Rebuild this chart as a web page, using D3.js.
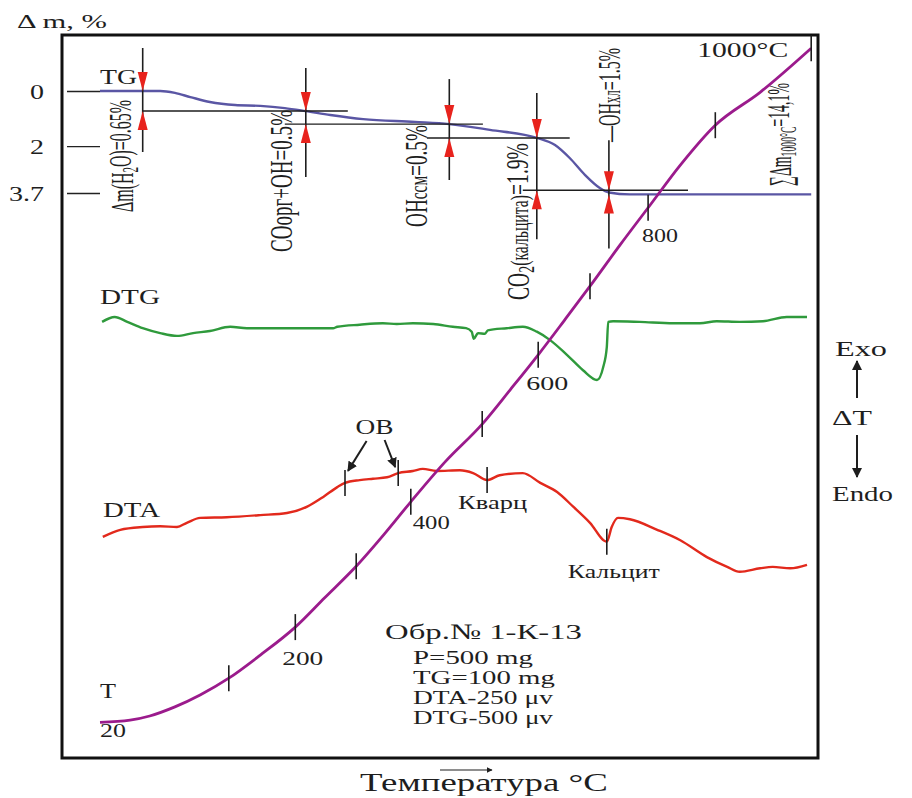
<!DOCTYPE html>
<html>
<head>
<meta charset="utf-8">
<script src="https://cdn.jsdelivr.net/npm/d3@7"></script>
<style>
  body { margin: 0; background: #fff; }
  svg { display: block; }
  text { font-family: "Liberation Serif", "Times New Roman", serif; fill: #1e1e1e; }
</style>
</head>
<body>
<svg id="chart" width="912" height="798"></svg>
<script>
// ---- Recorded traces: [time, value] ----
// Temperature pen (chart deflection, arbitrary units)
const tCurve = [[0,5.1],[4.3,5.4],[7.1,6.0],[10.7,7.3],[14.3,9.0],[18.4,11.4],[22.9,14.7],[27.9,18.7],
  [32.1,22.9],[36.6,27.4],[40.7,32.1],[44.4,36.6],[49.3,42.3],[54.6,47.7],[58.6,52.6],[62.6,57.6],
  [66.4,62.6],[70.0,67.4],[74.3,73.3],[78.6,79.0],[82.9,84.7],[87.9,90.4],[94.3,95.1],[101.6,101.4]];

// Mass loss, %
const tgCurve = [[0,0],[8.6,0],[10.7,0.07],[12.9,0.22],[15.7,0.40],[19.3,0.51],[22.9,0.54],[26.4,0.62],
  [29.4,0.73],[32.9,0.87],[37.6,1.02],[45.0,1.12],[49.9,1.2],[55.7,1.41],[62.4,1.7],[65.0,1.96],
  [67.1,2.43],[69.3,3.05],[71.4,3.52],[72.7,3.68],[75.7,3.75],[101.6,3.75]];

// DTG pen (chart deflection)
const dtgCurve = [[0.3,62.3],[2.1,63.0],[3.9,62.3],[6.1,61.4],[8.6,60.7],[11.0,60.3],[13.3,60.7],
  [15.7,61.0],[18.6,61.6],[21.0,61.4],[25.3,61.4],[30.0,61.4],[33.3,61.4],[33.9,61.6],[37.1,61.9],
  [40.4,62.1],[42.4,62.0],[44.7,62.1],[47.6,62.0],[50.4,61.6],[52.3,61.4],[53.1,60.9],[53.4,59.9],
  [54.0,60.7],[55.0,60.6],[55.4,61.1],[58.1,61.4],[60.4,61.6],[62.4,60.9],[64.3,59.7],[66.7,57.6],
  [69.0,55.4],[71.0,54.0],[71.9,55.9],[72.4,58.7],[72.6,62.3],[73.3,62.4],[77.1,62.3],[81.9,62.1],
  [85.7,62.1],[88.1,62.4],[91.4,62.3],[94.7,62.4],[98.1,63.0],[101.0,63.0]];

// DTA pen (chart deflection)
const dtaCurve = [[0.4,31.6],[2.9,32.6],[6.1,33.0],[8.6,33.1],[11.0,33.0],[12.4,33.6],[14.3,34.3],
  [18.1,34.4],[22.9,34.7],[26.7,35.0],[29.6,35.9],[31.9,37.3],[33.9,38.7],[35.0,39.3],[37.1,39.7],
  [39.0,39.9],[41.0,40.1],[42.6,40.7],[44.7,41.0],[46.1,41.3],[48.1,41.0],[51.4,41.1],[53.3,40.7],
  [55.3,39.7],[57.1,40.4],[60.4,40.7],[62.9,39.3],[65.3,38.0],[67.6,35.9],[70.0,33.6],[72.4,30.9],
  [73.1,33.0],[74.0,34.3],[75.7,34.1],[79.6,32.6],[82.9,31.1],[86.7,28.7],[89.6,27.3],[91.4,26.6],
  [94.3,27.1],[96.1,27.3],[98.6,27.1],[101.0,27.6]];

// Temperature marks along the T trace
const tempMarks = [100, 200, 300, 400, 500, 600, 700, 800, 900, 1000];
const tempMarkTimes = [18.4, 27.9, 36.6, 44.4, 54.6, 62.6, 70.0, 78.3, 87.9, 101.6];
const tempLabelled = [200, 400, 600, 800];

// Mass axis ticks
const massTicks = [0, 2, 3.7];

// Mass-loss steps: time of step and the two TG levels it spans
const stepTimes = [6.1, 29.4, 49.9, 62.4, 72.7];
const stepLevels = [[0, 0.725], [0.725, 1.2], [1.2, 1.705], [1.705, 3.6], [3.6, 3.75]];
const stepTexts = [
  [["Δm(H", ""], ["2", "sub"], ["O)=0.65%", ""]],
  [["СОорг+ОН=0.5%", ""]],
  [["ОН", ""], ["ссм", "small"], ["=0.5%", ""]],
  [["СО", ""], ["2", "sub"], ["(кальцита)", "small"], ["=1.9%", ""]],
  [["—ОН", ""], ["хл", "small"], ["=1.5%", ""]]
];
const totalText = [["∑Δm", ""], ["1000°C", "sub"], ["=14,1%", ""]];
// horizontal reference levels: [level %, from time, to time]
const stepGuides = [[0.725, 6.1, 35.4], [1.2, 26.4, 54.7], [1.705, 46.7, 67.1], [3.6, 60.4, 84.0]];

// DTA thermal effects
const dtaEventTimes = [35.0, 42.6, 55.3, 72.4];
const dtaEventNames = ["ОВ", "ОВ", "Кварц", "Кальцит"];

const sampleInfo = ["P=500 mg", "TG=100 mg", "DTA-250 μv", "DTG-500 μv"];

// ---- Scales ----
const x = d3.scaleLinear().domain([0, 100]).range([100, 800]);
const yPen = d3.scaleLinear().domain([0, 100]).range([758, 58]);
const yTG = d3.scaleLinear().domain([0, 3.7]).range([91, 193]);
const tAt = d3.scaleLinear().domain(tCurve.map(d => d[0])).range(tCurve.map(d => d[1]));
const dtaAt = d3.scaleLinear().domain(dtaCurve.map(d => d[0])).range(dtaCurve.map(d => d[1]));

const svg = d3.select("#chart");
const defs = svg.append("defs");
defs.append("marker").attr("id", "head").attr("viewBox", "0 0 10 10")
  .attr("refX", 9).attr("refY", 5).attr("markerWidth", 5).attr("markerHeight", 5)
  .attr("orient", "auto-start-reverse").attr("markerUnits", "strokeWidth")
  .append("path").attr("d", "M0,0 L10,5 L0,10 Z").attr("fill", "#1e1e1e");

// horizontal text fitted to a given width (the lettering is wide)
function put(str, x0, x1, yc, size, anchor) {
  const t = svg.append("text").attr("font-size", size).attr("dy", "0.35em")
    .attr("text-anchor", anchor || "start").text(str);
  const w = t.node().getComputedTextLength();
  const k = Math.abs(x1 - x0) / w;
  t.attr("transform", `translate(${anchor === "end" ? x1 : x0},${yc}) scale(${k},1)`);
  return t;
}

// vertical (rotated) annotation with sub / small runs
function putVertical(parts, cx, yBottom, yTop, size) {
  const t = svg.append("text").attr("font-size", size).attr("dy", "0.35em")
    .attr("transform", `translate(${cx},${yBottom}) scale(1.6,1) rotate(-90)`)
    .attr("textLength", yBottom - yTop).attr("lengthAdjust", "spacingAndGlyphs");
  let shifted = false;
  parts.forEach(([s, kind]) => {
    const sp = t.append("tspan").text(s);
    if (kind === "sub") { sp.attr("font-size", size * 0.7).attr("dy", shifted ? 0 : "0.22em"); shifted = true; }
    else {
      if (shifted) { sp.attr("dy", "-0.22em"); shifted = false; }
      if (kind === "small") sp.attr("font-size", size * 0.8);
    }
  });
  return t;
}

const line = d3.line().x(d => x(d[0])).curve(d3.curveMonotoneX);

// ---- Frame ----
svg.append("rect").attr("x", 62).attr("y", 35).attr("width", 756).attr("height", 723)
  .attr("fill", "none").attr("stroke", "#111").attr("stroke-width", 3);

// ---- Mass axis ----
const axis = svg.append("g").attr("transform", "translate(100,0)")
  .call(d3.axisLeft(yTG).tickValues(massTicks).tickSize(33).tickFormat(d => d === 3.7 ? "3.7" : d3.format("d")(d)));
axis.select(".domain").remove();
axis.selectAll(".tick line").attr("stroke", "#222").attr("stroke-width", 1.4);
axis.selectAll(".tick text").attr("x", 0).attr("dy", "0.35em").attr("font-size", 20)
  .attr("font-family", "Liberation Serif, serif").attr("fill", "#1e1e1e")
  .attr("text-anchor", "end").attr("transform", "translate(-56,0) scale(1.4,1)");
put("Δ m, %", 17, 107, 21, 19);

// ---- TG trace ----
svg.append("path").datum(tgCurve).attr("fill", "none").attr("stroke", "#5a56a4").attr("stroke-width", 2.4)
  .attr("d", line.y(d => yTG(d[1])));
put("TG", 100, 137, 77, 20);

// step reference levels
stepGuides.forEach(([lv, t0, t1]) => {
  svg.append("line").attr("x1", x(t0)).attr("x2", x(t1)).attr("y1", yTG(lv)).attr("y2", yTG(lv))
    .attr("stroke", "#1e1e1e").attr("stroke-width", 1.3);
});

// step markers with converging red arrows
const stepLayout = [
  { up: 43, down: 41, dx: -21, bottom: 212, top: 100 },
  { up: 43, down: 53, dx: -25, bottom: 252, top: 110 },
  { up: 45, down: 42, dx: -34, bottom: 227, top: 125 },
  { up: 45, down: 49, dx: -19, bottom: 300, top: 143 },
  { up: 50, down: 54, dx: 0, bottom: 142, top: 48 }
];
stepTimes.forEach((t, i) => {
  const px = x(t), y0 = yTG(stepLevels[i][0]), y1 = yTG(stepLevels[i][1]);
  const L = stepLayout[i];
  svg.append("line").attr("x1", px).attr("x2", px).attr("y1", y0 - L.up).attr("y2", y1 + L.down)
    .attr("stroke", "#1e1e1e").attr("stroke-width", 1.6);
  svg.append("path").attr("fill", "#e8231d")
    .attr("d", `M${px - 5},${y0 - 19} L${px + 5},${y0 - 19} L${px},${y0} Z`);
  svg.append("path").attr("fill", "#e8231d")
    .attr("d", `M${px - 5},${y1 + 19} L${px + 5},${y1 + 19} L${px},${y1} Z`);
  putVertical(stepTexts[i], px + L.dx, L.bottom, L.top, 20);
});
putVertical(totalText, 780, 186, 83, 20);

// ---- DTG trace ----
svg.append("path").datum(dtgCurve).attr("fill", "none").attr("stroke", "#2f9a3c").attr("stroke-width", 2.4)
  .attr("d", line.y(d => yPen(d[1])));
put("DTG", 100, 160, 297, 20);

// ---- DTA trace ----
svg.append("path").datum(dtaCurve).attr("fill", "none").attr("stroke", "#e2291c").attr("stroke-width", 2.4)
  .attr("d", line.y(d => yPen(d[1])));
put("DTA", 103, 160, 510, 20);

const evPos = dtaEventTimes.map(t => [x(t), yPen(dtaAt(t))]);
evPos.forEach(([px, py]) => {
  svg.append("line").attr("x1", px).attr("x2", px).attr("y1", py - 13).attr("y2", py + 13)
    .attr("stroke", "#1e1e1e").attr("stroke-width", 1.6);
});
// organic matter: one label, two arrows
const obX = (evPos[0][0] + evPos[1][0]) / 2 + 3;
put(dtaEventNames[0], obX - 19, obX + 19, 427, 20);
[[obX - 8, 441, evPos[0][0] + 3, evPos[0][1] - 12], [obX + 10, 440, evPos[1][0] - 3, evPos[1][1] - 6]]
  .forEach(([ax, ay, bx, by]) => {
    svg.append("line").attr("x1", ax).attr("y1", ay).attr("x2", bx).attr("y2", by)
      .attr("stroke", "#1e1e1e").attr("stroke-width", 2).attr("marker-end", "url(#head)");
  });
put(dtaEventNames[2], evPos[2][0] - 29, evPos[2][0] + 40, evPos[2][1] + 22, 19);
put(dtaEventNames[3], evPos[3][0] - 39, evPos[3][0] + 53, evPos[3][1] + 30, 19);

// ---- Temperature trace ----
svg.append("path").datum(tCurve).attr("fill", "none").attr("stroke", "#9b1b8c").attr("stroke-width", 2.8)
  .attr("d", line.y(d => yPen(d[1])));
tempMarks.forEach((T, i) => {
  const px = x(tempMarkTimes[i]), py = yPen(tAt(tempMarkTimes[i]));
  svg.append("line").attr("x1", px).attr("x2", px).attr("y1", py - 13).attr("y2", py + 13)
    .attr("stroke", "#1e1e1e").attr("stroke-width", 1.6);
});
const tempLabelOffset = { 200: [-13, 31, 41], 400: [2, 21, 37], 600: [-12, 29, 42], 800: [-6, 28, 36] };
tempLabelled.forEach(T => {
  const i = tempMarks.indexOf(T);
  const px = x(tempMarkTimes[i]), py = yPen(tAt(tempMarkTimes[i]));
  const [dx, dy, w] = tempLabelOffset[T];
  put(String(T), px + dx, px + dx + w, py + dy, 19);
});
const startY = yPen(tCurve[0][1]);
put("20", x(tCurve[0][0]), x(tCurve[0][0]) + 26, startY + 8, 19);
put("T", 100, 116, 691, 20);
const endX = x(tempMarkTimes[tempMarkTimes.length - 1]);
put("1000°C", endX - 114, endX - 23, 50, 20);

// ---- Exo / Endo ----
put("Exo", 835, 887, 348, 22);
svg.append("line").attr("x1", 857).attr("x2", 857).attr("y1", 398).attr("y2", 361)
  .attr("stroke", "#1e1e1e").attr("stroke-width", 2).attr("marker-end", "url(#head)");
put("ΔT", 832, 872, 417, 22);
svg.append("line").attr("x1", 857).attr("x2", 857).attr("y1", 435).attr("y2", 477)
  .attr("stroke", "#1e1e1e").attr("stroke-width", 2).attr("marker-end", "url(#head)");
put("Endo", 832, 893, 493, 22);

// ---- Sample block ----
put("Обр.№ 1-К-13", 385, 582, 631, 22);
const infoWidths = [120, 142, 140, 140];
sampleInfo.forEach((s, i) => put(s, 413, 413 + infoWidths[i], 657 + i * 20, 19));

// ---- X title ----
svg.append("line").attr("x1", 440).attr("x2", 492).attr("y1", 770).attr("y2", 770)
  .attr("stroke", "#1e1e1e").attr("stroke-width", 1.2).attr("marker-end", "url(#head)");
put("Температура °C", 360, 608, 782, 25);
</script>
</body>
</html>
